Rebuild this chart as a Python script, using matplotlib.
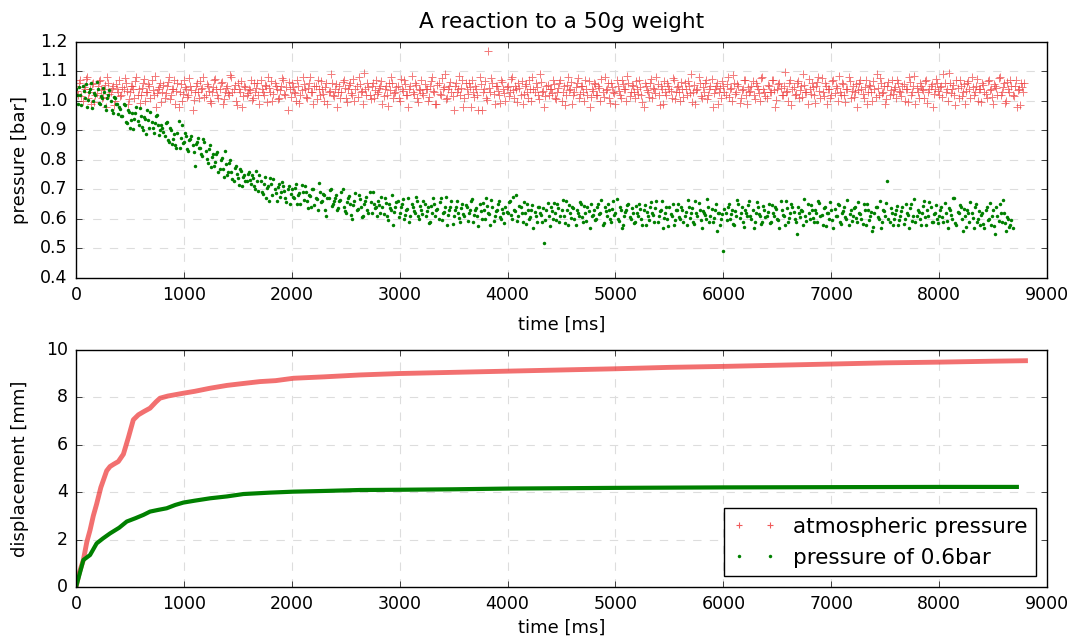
import numpy as np
import matplotlib
matplotlib.use('Agg')
import matplotlib.pyplot as plt
from matplotlib.lines import Line2D

# pressure samples, one every 20 ms (second set offset by half a step)
sample_ms = 20

p_atm = [
    1.05, 1.02, 1.07, 1.00, 1.04, 1.08, 1.03, 0.99, 1.06, 1.02, 1.05, 1.07, 1.01, 1.04, 0.98, 1.06, 1.03, 1.05, 1.00, 1.04,
    1.07, 1.02, 1.04, 1.06, 0.99, 1.03, 1.05, 1.01, 1.08, 1.04, 1.02, 1.06, 1.00, 1.03, 1.05, 1.07, 1.02, 0.98, 1.04, 1.06,
    1.03, 1.01, 1.05, 1.08, 1.02, 1.04, 0.99, 1.06, 1.03, 1.00, 1.07, 1.04, 1.02, 1.05, 0.97, 1.03, 1.06, 1.01, 1.04, 1.08,
    1.02, 1.05, 1.00, 1.03, 1.07, 1.04, 1.01, 1.06, 0.99, 1.03, 1.05, 1.02, 1.08, 1.04, 1.00, 1.06, 1.03, 0.98, 1.05, 1.02,
    1.04, 1.07, 1.01, 1.03, 1.06, 0.99, 1.04, 1.02, 1.05, 1.08, 1.03, 1.00, 1.06, 1.04, 1.01, 1.05, 1.07, 1.02, 0.97, 1.04,
    1.06, 1.03, 1.00, 1.05, 1.02, 1.08, 1.04, 1.01, 1.06, 1.03, 0.99, 1.05, 1.07, 1.02, 1.04, 1.00, 1.06, 1.03, 1.09, 1.02,
    1.04, 0.98, 1.05, 1.03, 1.07, 1.01, 1.04, 1.06, 1.02, 1.00, 1.05, 1.08, 1.03, 0.99, 1.04, 1.06, 1.02, 1.05, 1.01, 1.07,
    1.03, 1.05, 0.99, 1.04, 1.02, 1.06, 1.08, 1.01, 1.03, 1.05, 1.00, 1.04, 1.07, 1.02, 0.98, 1.05, 1.03, 1.06, 1.01, 1.04,
    1.07, 1.02, 1.04, 1.00, 1.05, 1.08, 1.03, 0.99, 1.06, 1.02, 1.04, 1.09, 1.01, 1.05, 1.03, 0.97, 1.06, 1.04, 1.02, 1.07,
    1.01, 1.04, 1.06, 0.98, 1.03, 1.05, 1.02, 1.08, 0.97, 1.04, 1.01, 1.17, 1.03, 1.06, 0.99, 1.05, 1.02, 1.07, 1.04, 1.00,
    1.05, 1.03, 1.08, 1.01, 1.04, 1.06, 1.02, 0.99, 1.05, 1.03, 1.07, 1.00, 1.04, 1.06, 1.02, 1.09, 1.03, 0.98, 1.05, 1.02,
    1.04, 1.07, 1.01, 1.03, 1.06, 1.00, 1.05, 1.02, 1.08, 1.04, 0.99, 1.03, 1.06, 1.01, 1.05, 1.03, 1.07, 1.02, 0.98, 1.04,
    1.06, 1.02, 1.05, 1.00, 1.03, 1.08, 1.04, 1.01, 1.06, 1.03, 0.99, 1.05, 1.02, 1.07, 1.04, 1.00, 1.06, 1.03, 1.05, 1.01,
    1.04, 1.07, 1.02, 0.98, 1.05, 1.03, 1.06, 1.01, 1.04, 1.08, 1.02, 1.05, 0.99, 1.03, 1.06, 1.04, 1.01, 1.07, 1.03, 1.05,
    1.00, 1.04, 1.06, 1.02, 1.05, 1.09, 1.03, 0.99, 1.04, 1.06, 1.01, 1.03, 1.07, 1.02, 1.05, 0.98, 1.04, 1.06, 1.03, 1.01,
    1.05, 1.02, 1.08, 1.04, 1.00, 1.06, 1.03, 1.05, 1.01, 1.04, 1.07, 0.99, 1.03, 1.05, 1.02, 1.06, 1.04, 1.00, 1.08, 1.03,
    1.01, 1.05, 1.03, 1.07, 0.98, 1.04, 1.06, 1.02, 1.05, 1.03, 1.00, 1.07, 1.04, 1.02, 1.06, 1.01, 1.05, 1.09, 1.03, 0.99,
    1.04, 1.06, 1.02, 1.05, 1.08, 1.01, 1.03, 1.06, 0.99, 1.04, 1.02, 1.07, 1.05, 1.00, 1.03, 1.06, 1.02, 1.04, 1.08, 1.01,
    1.05, 1.03, 0.98, 1.06, 1.04, 1.01, 1.07, 1.03, 1.05, 1.00, 1.04, 1.09, 1.02, 1.06, 1.03, 0.99, 1.05, 1.02, 1.07, 1.04,
    1.01, 1.06, 1.03, 1.05, 1.00, 1.04, 1.08, 1.02, 1.05, 0.99, 1.03, 1.06, 1.04, 1.01, 1.07, 1.03, 1.05, 0.98, 1.04, 1.06,
    1.02, 1.05, 1.09, 1.03, 1.00, 1.06, 1.04, 1.02, 1.07, 1.01, 1.05, 1.03, 0.99, 1.06, 1.04, 1.08, 1.02, 1.05, 1.00, 1.04,
    1.06, 1.03, 1.01, 1.07, 1.04, 0.99, 1.05, 1.02, 1.08, 1.03, 1.06, 1.00, 1.04, 1.07, 1.02, 1.05, 0.98, 1.04, 1.06, 1.03,
]

p_atm_b = [
    1.035, 1.062, 1.018, 1.047, 1.073, 1.009, 1.041, 1.056, 0.995, 1.028, 1.066, 1.037, 1.012, 1.054, 1.081, 1.024, 1.045, 0.988, 1.058, 1.031,
    1.016, 1.049, 1.077, 1.033, 1.006, 1.052, 1.039, 1.068, 1.021, 0.993, 1.045, 1.074, 1.029, 1.057, 1.011, 1.038, 1.085, 1.026, 1.048, 0.996,
    1.053, 1.027, 1.064, 1.008, 1.042, 1.071, 1.034, 0.981, 1.059, 1.023, 1.046, 1.015, 1.078, 1.036, 1.004, 1.051, 1.029, 1.067, 1.043, 1.012,
    1.058, 1.034, 0.992, 1.047, 1.076, 1.021, 1.039, 1.063, 1.007, 1.044, 1.028, 1.089, 1.032, 1.055, 0.986, 1.041, 1.069, 1.017, 1.048, 1.026,
    1.037, 1.003, 1.061, 1.045, 1.019, 1.072, 1.031, 1.054, 0.997, 1.043, 1.066, 1.024, 1.051, 1.008, 1.038, 1.079, 1.022, 1.046, 1.063, 1.014,
    1.049, 1.027, 1.071, 0.994, 1.036, 1.058, 1.013, 1.045, 1.082, 1.029, 1.052, 1.006, 1.041, 1.067, 1.023, 1.048, 0.989, 1.035, 1.061, 1.018,
    1.056, 1.032, 1.011, 1.064, 1.043, 0.998, 1.053, 1.027, 1.074, 1.039, 1.015, 1.058, 1.034, 1.096, 1.021, 1.047, 1.005, 1.062, 1.038, 1.025,
    1.044, 1.069, 1.016, 1.051, 0.983, 1.037, 1.062, 1.028, 1.049, 1.009, 1.075, 1.033, 1.057, 1.019, 1.042, 1.086, 1.024, 1.053, 0.996, 1.038,
    1.027, 1.059, 1.041, 1.012, 1.068, 1.035, 0.991, 1.054, 1.023, 1.077, 1.046, 1.008, 1.039, 1.063, 1.017, 1.052, 1.029, 1.083, 1.044, 0.979,
    1.061, 1.025, 1.048, 1.072, 1.014, 1.039, 0.969, 1.057, 1.031, 1.066, 1.004, 1.043, 1.078, 1.022, 1.051, 1.035, 0.994, 1.064, 1.028, 1.047,
    1.018, 1.073, 1.036, 1.052, 0.997, 1.044, 1.067, 1.025, 1.058, 1.011, 1.039, 1.082, 1.029, 1.048, 1.006, 1.063, 1.034, 1.017, 1.055, 1.041,
    1.026, 1.059, 1.008, 1.043, 1.071, 1.032, 0.988, 1.054, 1.037, 1.065, 1.019, 1.046, 1.079, 1.023, 1.052, 0.999, 1.041, 1.068, 1.014, 1.035,
    1.057, 1.021, 1.045, 1.076, 1.013, 1.038, 1.062, 0.992, 1.049, 1.027, 1.071, 1.035, 1.009, 1.058, 1.042, 1.084, 1.016, 1.053, 1.031, 1.066,
    1.024, 1.048, 0.996, 1.061, 1.037, 1.012, 1.073, 1.044, 1.028, 1.056, 0.985, 1.039, 1.067, 1.021, 1.052, 1.034, 1.078, 1.007, 1.046, 1.029,
    1.063, 1.015, 1.042, 1.069, 1.026, 0.998, 1.054, 1.036, 1.081, 1.018, 1.047, 1.062, 1.005, 1.039, 1.074, 1.027, 1.051, 0.991, 1.043, 1.066,
    1.032, 1.057, 1.013, 1.045, 1.088, 1.024, 1.059, 0.994, 1.038, 1.071, 1.021, 1.049, 1.033, 1.067, 1.008, 1.052, 1.026, 1.078, 1.041, 1.017,
    1.054, 1.029, 1.072, 1.037, 1.003, 1.058, 1.044, 1.019, 1.098, 1.035, 1.061, 0.987, 1.046, 1.023, 1.069, 1.038, 1.012, 1.055, 1.031, 1.076,
    1.022, 1.047, 0.993, 1.063, 1.034, 1.078, 1.016, 1.052, 1.039, 1.009, 1.066, 1.028, 1.045, 1.083, 1.021, 1.057, 0.998, 1.041, 1.068, 1.033,
    1.014, 1.059, 1.036, 1.072, 1.025, 1.048, 0.989, 1.055, 1.031, 1.067, 1.012, 1.043, 1.079, 1.027, 1.051, 1.006, 1.064, 1.038, 1.022, 1.049,
    1.071, 1.033, 1.018, 1.056, 1.042, 0.996, 1.063, 1.029, 1.084, 1.045, 1.011, 1.052, 1.037, 1.069, 0.992, 1.041, 1.058, 1.024, 1.076, 1.035,
    1.047, 1.013, 1.062, 1.039, 1.094, 1.026, 1.053, 0.988, 1.044, 1.071, 1.018, 1.057, 1.034, 1.066, 1.009, 1.048, 1.029, 1.073, 1.041, 0.997,
    1.055, 1.024, 1.068, 1.037, 1.012, 1.059, 1.043, 1.079, 1.021, 1.046, 0.993, 1.064, 1.032, 1.051, 1.017, 1.072, 1.038, 0.985, 1.049, 1.061,
]

p_low = [
    1.04, 0.99, 1.02, 1.05, 1.01, 0.98, 1.03, 1.06, 1.00, 1.02, 1.04, 0.99, 1.01, 1.03, 0.97, 1.02, 1.00, 0.96, 1.01, 0.99,
    0.98, 0.95, 0.99, 0.93, 0.97, 0.91, 0.96, 0.94, 0.98, 0.92, 0.95, 0.90, 0.94, 0.97, 0.91, 0.93, 0.89, 0.95, 0.92, 0.90,
    0.91, 0.88, 0.93, 0.86, 0.90, 0.87, 0.85, 0.89, 0.84, 0.92, 0.86, 0.88, 0.83, 0.87, 0.85, 0.78, 0.86, 0.84, 0.82, 0.87,
    0.83, 0.79, 0.85, 0.81, 0.78, 0.82, 0.76, 0.80, 0.77, 0.83, 0.75, 0.79, 0.76, 0.73, 0.78, 0.74, 0.77, 0.71, 0.75, 0.73,
    0.76, 0.72, 0.74, 0.70, 0.73, 0.75, 0.69, 0.72, 0.67, 0.71, 0.74, 0.68, 0.70, 0.66, 0.72, 0.69, 0.71, 0.67, 0.70, 0.65,
    0.70, 0.67, 0.72, 0.68, 0.65, 0.69, 0.71, 0.66, 0.68, 0.64, 0.70, 0.67, 0.63, 0.69, 0.66, 0.68, 0.61, 0.67, 0.70, 0.65,
    0.67, 0.63, 0.66, 0.69, 0.64, 0.62, 0.67, 0.65, 0.60, 0.66, 0.63, 0.68, 0.64, 0.61, 0.66, 0.63, 0.69, 0.62, 0.65, 0.64,
    0.66, 0.62, 0.64, 0.67, 0.61, 0.65, 0.63, 0.58, 0.64, 0.66, 0.62, 0.65, 0.60, 0.63, 0.67, 0.61, 0.64, 0.62, 0.66, 0.60,
    0.63, 0.66, 0.61, 0.64, 0.59, 0.62, 0.65, 0.63, 0.60, 0.67, 0.62, 0.64, 0.58, 0.63, 0.66, 0.61, 0.64, 0.62, 0.59, 0.65,
    0.61, 0.64, 0.62, 0.66, 0.59, 0.63, 0.61, 0.65, 0.60, 0.63, 0.67, 0.62, 0.58, 0.64, 0.61, 0.63, 0.66, 0.60, 0.62, 0.64,
    0.62, 0.66, 0.60, 0.63, 0.68, 0.61, 0.64, 0.59, 0.62, 0.65, 0.60, 0.63, 0.57, 0.61, 0.64, 0.62, 0.59, 0.52, 0.63, 0.61,
    0.64, 0.60, 0.62, 0.65, 0.59, 0.63, 0.61, 0.66, 0.58, 0.62, 0.64, 0.60, 0.63, 0.61, 0.65, 0.59, 0.62, 0.64, 0.57, 0.61,
    0.63, 0.60, 0.65, 0.62, 0.58, 0.64, 0.61, 0.63, 0.59, 0.66, 0.62, 0.60, 0.64, 0.57, 0.61, 0.63, 0.65, 0.60, 0.62, 0.59,
    0.62, 0.65, 0.60, 0.63, 0.58, 0.61, 0.64, 0.62, 0.59, 0.66, 0.61, 0.63, 0.57, 0.62, 0.60, 0.64, 0.61, 0.58, 0.63, 0.65,
    0.60, 0.63, 0.61, 0.58, 0.64, 0.62, 0.59, 0.66, 0.61, 0.63, 0.57, 0.62, 0.60, 0.64, 0.61, 0.59, 0.63, 0.56, 0.62, 0.60,
    0.49, 0.62, 0.64, 0.60, 0.63, 0.58, 0.61, 0.65, 0.62, 0.59, 0.63, 0.61, 0.66, 0.60, 0.57, 0.62, 0.64, 0.61, 0.59, 0.63,
    0.61, 0.65, 0.59, 0.62, 0.64, 0.60, 0.57, 0.63, 0.61, 0.66, 0.59, 0.62, 0.64, 0.60, 0.55, 0.62, 0.63, 0.58, 0.61, 0.65,
    0.60, 0.63, 0.59, 0.62, 0.66, 0.61, 0.58, 0.64, 0.62, 0.60, 0.63, 0.57, 0.61, 0.65, 0.59, 0.62, 0.64, 0.60, 0.58, 0.63,
    0.61, 0.64, 0.59, 0.62, 0.60, 0.65, 0.58, 0.63, 0.61, 0.56, 0.62, 0.64, 0.60, 0.57, 0.63, 0.61, 0.73, 0.59, 0.62, 0.60,
    0.63, 0.58, 0.61, 0.64, 0.60, 0.62, 0.57, 0.65, 0.61, 0.59, 0.63, 0.60, 0.62, 0.66, 0.58, 0.61, 0.64, 0.59, 0.62, 0.60,
    0.61, 0.64, 0.59, 0.62, 0.57, 0.63, 0.60, 0.67, 0.58, 0.62, 0.64, 0.56, 0.61, 0.63, 0.59, 0.62, 0.57, 0.65, 0.60, 0.58,
    0.62, 0.57, 0.64, 0.60, 0.58, 0.63, 0.55, 0.61, 0.65, 0.59, 0.62, 0.56, 0.60, 0.58, 0.57,
]

p_low_b = [
    1.021, 1.048, 0.986, 1.034, 1.057, 1.003, 1.041, 0.975, 1.026, 1.063, 0.994, 1.018, 1.045, 0.982, 1.009, 1.037, 0.968, 1.012, 0.989, 0.956,
    0.973, 0.948, 0.986, 0.925, 0.962, 0.937, 0.904, 0.958, 0.931, 0.976, 0.913, 0.947, 0.889, 0.935, 0.962, 0.908, 0.926, 0.951, 0.883, 0.917,
    0.896, 0.924, 0.868, 0.907, 0.853, 0.889, 0.842, 0.931, 0.874, 0.858, 0.893, 0.836, 0.869, 0.881, 0.827, 0.854, 0.873, 0.842, 0.815, 0.861,
    0.804, 0.837, 0.776, 0.819, 0.792, 0.828, 0.768, 0.807, 0.743, 0.786, 0.759, 0.801, 0.737, 0.772, 0.754, 0.716, 0.763, 0.741, 0.728, 0.752,
    0.731, 0.748, 0.712, 0.764, 0.695, 0.727, 0.683, 0.741, 0.706, 0.662, 0.719, 0.734, 0.689, 0.708, 0.673, 0.726, 0.694, 0.658, 0.713, 0.686,
    0.674, 0.706, 0.652, 0.688, 0.715, 0.663, 0.691, 0.637, 0.679, 0.702, 0.648, 0.669, 0.723, 0.656, 0.684, 0.629, 0.671, 0.697, 0.643, 0.662,
    0.681, 0.638, 0.664, 0.703, 0.627, 0.659, 0.678, 0.612, 0.646, 0.687, 0.633, 0.669, 0.605, 0.652, 0.674, 0.621, 0.658, 0.692, 0.636, 0.611,
    0.648, 0.673, 0.618, 0.654, 0.596, 0.637, 0.681, 0.623, 0.659, 0.607, 0.642, 0.668, 0.614, 0.633, 0.589, 0.651, 0.627, 0.676, 0.609, 0.644,
    0.616, 0.652, 0.628, 0.587, 0.643, 0.671, 0.609, 0.634, 0.658, 0.598, 0.624, 0.676, 0.613, 0.641, 0.582, 0.629, 0.662, 0.604, 0.637, 0.618,
    0.647, 0.594, 0.631, 0.668, 0.612, 0.638, 0.576, 0.626, 0.654, 0.601, 0.643, 0.617, 0.665, 0.592, 0.628, 0.649, 0.607, 0.634, 0.586, 0.622,
    0.659, 0.613, 0.676, 0.628, 0.594, 0.645, 0.619, 0.657, 0.583, 0.632, 0.605, 0.648, 0.624, 0.589, 0.641, 0.612, 0.637, 0.598, 0.653, 0.576,
    0.627, 0.654, 0.596, 0.638, 0.611, 0.665, 0.587, 0.629, 0.648, 0.603, 0.636, 0.579, 0.621, 0.657, 0.608, 0.643, 0.592, 0.626, 0.651, 0.614,
    0.597, 0.639, 0.618, 0.664, 0.586, 0.627, 0.652, 0.601, 0.635, 0.612, 0.669, 0.594, 0.631, 0.578, 0.623, 0.647, 0.606, 0.638, 0.585, 0.644,
    0.609, 0.633, 0.581, 0.647, 0.622, 0.596, 0.658, 0.614, 0.637, 0.589, 0.626, 0.661, 0.603, 0.641, 0.577, 0.618, 0.652, 0.598, 0.629, 0.606,
    0.642, 0.591, 0.625, 0.663, 0.604, 0.636, 0.583, 0.619, 0.654, 0.597, 0.628, 0.612, 0.667, 0.588, 0.634, 0.603, 0.649, 0.621, 0.579, 0.616,
    0.635, 0.598, 0.651, 0.616, 0.582, 0.627, 0.664, 0.603, 0.639, 0.574, 0.621, 0.648, 0.609, 0.632, 0.591, 0.656, 0.617, 0.584, 0.643, 0.608,
    0.624, 0.587, 0.646, 0.611, 0.633, 0.596, 0.661, 0.615, 0.578, 0.637, 0.604, 0.652, 0.623, 0.589, 0.641, 0.607, 0.628, 0.668, 0.594, 0.619,
    0.646, 0.602, 0.629, 0.588, 0.653, 0.614, 0.637, 0.576, 0.621, 0.659, 0.598, 0.633, 0.611, 0.647, 0.583, 0.626, 0.605, 0.664, 0.617, 0.592,
    0.638, 0.603, 0.656, 0.617, 0.584, 0.631, 0.649, 0.596, 0.622, 0.574, 0.641, 0.608, 0.662, 0.589, 0.627, 0.653, 0.601, 0.636, 0.579, 0.618,
    0.645, 0.597, 0.628, 0.582, 0.651, 0.614, 0.636, 0.593, 0.667, 0.609, 0.624, 0.578, 0.643, 0.605, 0.632, 0.659, 0.591, 0.618, 0.648, 0.586,
    0.629, 0.606, 0.654, 0.592, 0.638, 0.613, 0.671, 0.587, 0.625, 0.646, 0.599, 0.633, 0.574, 0.619, 0.657, 0.603, 0.641, 0.588, 0.626, 0.612,
    0.584, 0.632, 0.598, 0.655, 0.611, 0.576, 0.639, 0.594, 0.621, 0.663, 0.587, 0.608, 0.572, 0.596,
]

# displacement curves
d_atm_t = [0, 30, 68, 100, 130, 160, 191, 230, 284, 315, 350, 392, 439, 485, 531, 578, 630, 686, 740, 778,
           850, 995, 1100, 1242, 1400, 1550, 1705, 1850, 2014, 2300, 2632, 3000, 3500, 4000, 4500, 5000,
           5500, 6000, 6500, 7000, 7500, 8000, 8500, 8800]
d_atm = [0, 0.6, 1.14, 1.9, 2.4, 3.0, 3.5, 4.2, 4.9, 5.08, 5.18, 5.29, 5.6, 6.3, 7.05, 7.26, 7.4, 7.54, 7.8, 7.96,
         8.05, 8.17, 8.25, 8.38, 8.5, 8.58, 8.66, 8.7, 8.8, 8.86, 8.94, 9.0, 9.05, 9.1, 9.15, 9.2,
         9.26, 9.3, 9.35, 9.4, 9.45, 9.48, 9.52, 9.54]

d_low_t = [0, 30, 68, 130, 191, 250, 315, 400, 470, 550, 624, 686, 760, 840, 920, 995, 1100, 1242, 1400,
           1551, 1800, 2014, 2300, 2632, 3000, 3500, 4000, 5000, 6000, 7000, 8000, 8720]
d_low = [0, 0.5, 1.14, 1.35, 1.84, 2.05, 2.26, 2.5, 2.76, 2.9, 3.04, 3.18, 3.25, 3.32, 3.46, 3.56, 3.64, 3.74, 3.82,
         3.92, 3.98, 4.02, 4.05, 4.09, 4.1, 4.12, 4.15, 4.18, 4.2, 4.21, 4.22, 4.22]

labels = ['atmospheric pressure', 'pressure of 0.6bar']

plt.style.use('classic')
plt.rcParams['font.family'] = 'DejaVu Sans'
plt.rcParams['xtick.labelsize'] = 12.5
plt.rcParams['ytick.labelsize'] = 12.5

red = (0.93, 0.2, 0.2)
green = '#008000'

t_atm = np.arange(len(p_atm)) * sample_ms
t_atm_b = np.arange(len(p_atm_b)) * sample_ms + sample_ms / 2
t_low = np.arange(len(p_low)) * sample_ms
t_low_b = np.arange(len(p_low_b)) * sample_ms + sample_ms / 2

fig = plt.figure(figsize=(10.77, 6.36), dpi=100, facecolor='white')
ax1 = fig.add_axes([0.0706, 0.563, 0.9016, 0.371])
ax2 = fig.add_axes([0.0706, 0.077, 0.9016, 0.373])

for t, p in ((t_atm, p_atm), (t_atm_b, p_atm_b)):
    ax1.plot(t, p, ls='none', marker='+', ms=6, mew=0.7, color=red, alpha=0.65)
for t, p in ((t_low, p_low), (t_low_b, p_low_b)):
    ax1.plot(t, p, ls='none', marker='.', ms=5, mew=0, color=green)
ax1.set_xlim(0, 9000)
ax1.set_ylim(0.4, 1.2)
ax1.set_title('A reaction to a 50g weight', fontsize=15.5, pad=10)
ax1.set_xlabel('time [ms]', fontsize=13, labelpad=8)
ax1.set_ylabel('pressure [bar]', fontsize=13, labelpad=8)

ax2.plot(d_atm_t, d_atm, '-', lw=3.5, color=red, alpha=0.7)
ax2.plot(d_low_t, d_low, '-', lw=3, color=green)
ax2.set_xlim(0, 9000)
ax2.set_ylim(0, 10)
ax2.set_xlabel('time [ms]', fontsize=13, labelpad=4)
ax2.set_ylabel('displacement [mm]', fontsize=13, labelpad=12)

for ax in (ax1, ax2):
    ax.grid(True, ls='--', color='#dddddd', lw=0.8)
    ax.set_axisbelow(True)
    ax.tick_params(pad=6)

handles = [Line2D([], [], ls='none', marker='+', ms=5, mew=0.8, color=red, alpha=0.8),
           Line2D([], [], ls='none', marker='.', ms=5, mew=0, color=green)]
ax2.legend(handles, labels, loc='lower right', numpoints=2, fontsize=15.5, fancybox=False)

fig.savefig('out.png', dpi=100, facecolor='white')
